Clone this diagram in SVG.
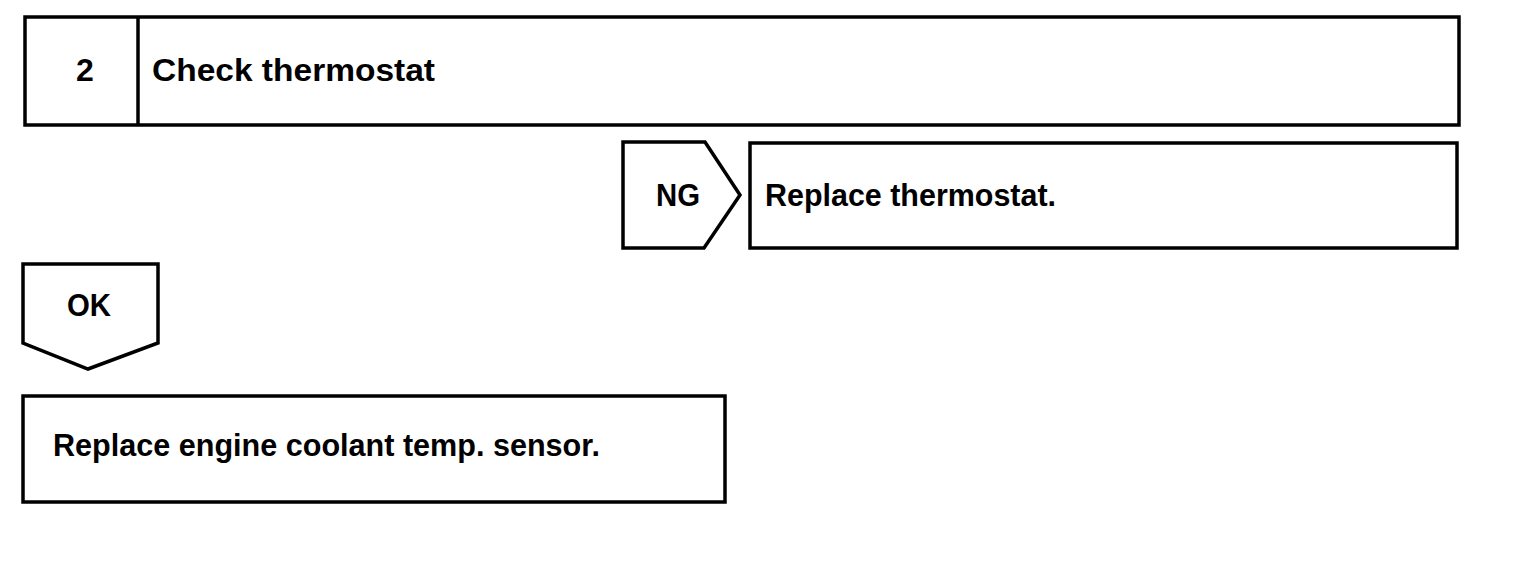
<svg xmlns="http://www.w3.org/2000/svg" width="1520" height="578" viewBox="0 0 1520 578">
<style>
.b{fill:#fff;stroke:#000;stroke-width:3.5;stroke-linejoin:miter}
.t{font-family:"Liberation Sans",Arial,sans-serif;font-weight:bold;font-size:32px;fill:#000}
</style>
<rect width="1520" height="578" fill="#fff"/>
<g id="step2">
<rect class="b" x="25" y="17" width="1434" height="108"/>
<line class="b" x1="138" y1="17" x2="138" y2="125"/>
<text class="t" x="85" y="81" text-anchor="middle">2</text>
<text class="t" x="152" y="81" textLength="283" lengthAdjust="spacingAndGlyphs">Check thermostat</text>
</g>
<g id="connectors">
<g id="ng">
<polygon class="b" points="623,142 705,142 740,195 704,248 623,248"/>
<text class="t" x="678" y="206" text-anchor="middle" textLength="44" lengthAdjust="spacingAndGlyphs">NG</text>
</g>
<g id="ok">
<polygon class="b" points="23,264 158,264 158,343 88,369 23,343"/>
<text class="t" x="89" y="316" text-anchor="middle" textLength="44" lengthAdjust="spacingAndGlyphs">OK</text>
</g>
</g>
<g id="replace-thermostat">
<rect class="b" x="750" y="143" width="707" height="105"/>
<text class="t" x="765" y="206" textLength="291" lengthAdjust="spacingAndGlyphs">Replace thermostat.</text>
</g>
<g id="replace-sensor">
<rect class="b" x="23" y="396" width="702" height="106"/>
<text class="t" x="53" y="456" textLength="547" lengthAdjust="spacingAndGlyphs">Replace engine coolant temp. sensor.</text>
</g>
</svg>
